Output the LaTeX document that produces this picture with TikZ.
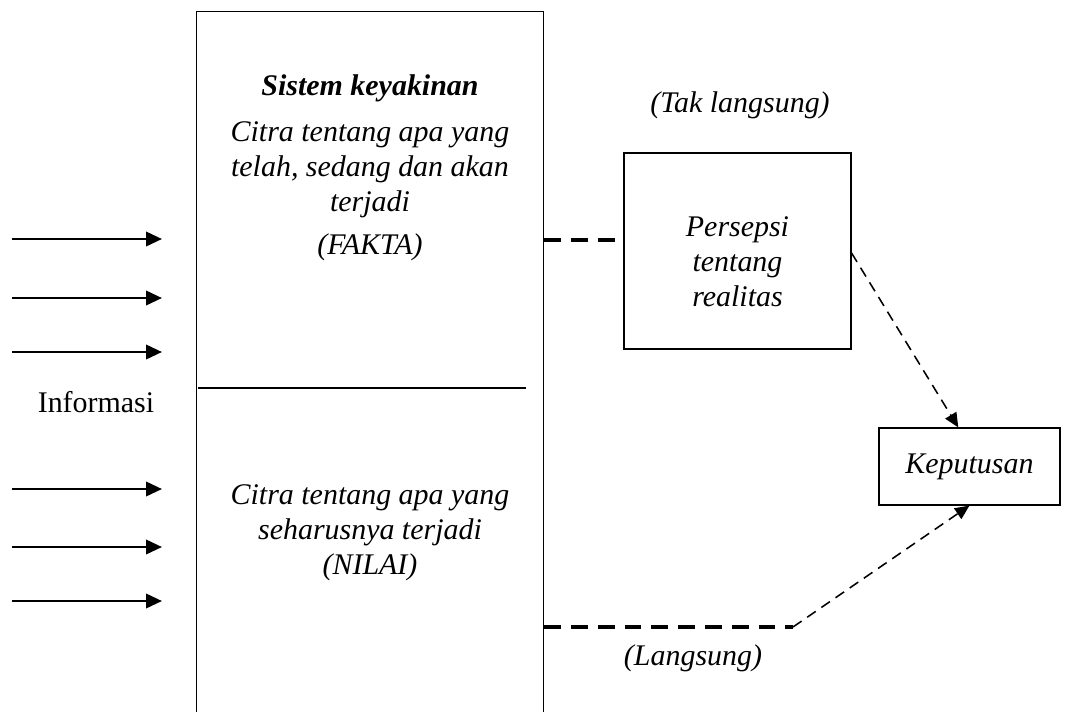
\documentclass[tikz,border=0pt]{standalone}
\usepackage{fontspec}
\setmainfont{Liberation Serif}
\usetikzlibrary{arrows.meta, positioning}
\tikzset{
  panel/.style={draw, line width=0.8pt, minimum width=8.675cm, minimum height=18.3cm},
  card/.style={draw, line width=0.8pt, align=center, font=\itshape},
  inarrow/.style={line width=1.8pt, -{Triangle[length=0.4cm, width=0.36cm]}},
  thickdash/.style={line width=2.3pt, dash pattern=on 0.42cm off 0.25cm},
  thindash/.style={line width=1.1pt, dash pattern=on 0.26cm off 0.17cm,
    -{Triangle[length=0.36cm, width=0.32cm]}},
  note/.style={font=\itshape}
}

\begin{document}
\begin{tikzpicture}[every node/.style={font=\fontsize{21.3}{24.9}\selectfont}]
  \useasboundingbox (0,0) rectangle (27.125,-17.775);

  % ---- Belief system panel (open at the bottom) ---------------------------
  \node[panel, anchor=north west] (sistem) at (4.9,-0.275) {};
  \draw[line width=1pt] (4.95,-9.7) -- (13.15,-9.7);

  \node[font=\fontsize{21.3}{24.9}\selectfont\bfseries\itshape] (judul) at (9.25,-2.2) {Sistem keyakinan};
  \node[align=center, font=\fontsize{21.3}{24.9}\selectfont\itshape] (fakta) at (9.25,-4.78)
        {Citra tentang apa yang\\ telah, sedang dan akan\\ terjadi\\[0.18cm] (FAKTA)};
  \node[align=center, font=\fontsize{21.3}{24.9}\selectfont\itshape] (nilai) at (9.25,-13.33)
        {Citra tentang apa yang\\ seharusnya terjadi\\ (NILAI)};

  % ---- Incoming information -------------------------------------------------
  \node (info) at (2.4,-10.05) {Informasi};
  \foreach \y [count=\i] in {-5.975, -7.45, -8.8, -12.225, -13.675, -15.025} {
    \coordinate (src\i) at (0.3,\y);
    \coordinate (dst\i) at (4.05,\y);
    \draw[inarrow] (src\i) -- (dst\i);
  }

  % ---- Perception and decision ----------------------------------------------
  \node[card, minimum width=5.675cm, minimum height=4.9cm,
        font=\fontsize{21.3}{24.9}\selectfont\itshape] (persepsi) at (18.4375,-6.275)
        {\rule{0pt}{1.05cm}Persepsi\\ tentang\\ realitas};
  \node[card, minimum width=4.525cm, minimum height=1.925cm,
        font=\fontsize{21.3}{24.9}\selectfont\itshape] (keputusan) at (24.2375,-11.6625)
        {Keputusan};

  \node[font=\fontsize{21.3}{24.9}\selectfont\itshape] (taklangsung) at (18.5,-2.62) {(Tak langsung)};
  \node[font=\fontsize{21.3}{24.9}\selectfont\itshape] (langsung) at (17.325,-16.45) {(Langsung)};

  % ---- Connectors -----------------------------------------------------------
  \draw[thickdash] (sistem.east |- 0,-6.0) -- (persepsi.west |- 0,-6.0);
  \draw[thindash] ([yshift=-0.05cm]persepsi.east) -- ([xshift=-0.28cm]keputusan.north);

  \coordinate (tekuk) at (19.825,-15.675);
  \draw[thickdash] (sistem.east |- tekuk) -- (tekuk);
  \draw[thindash] (tekuk) -- (keputusan.south);

\end{tikzpicture}
\end{document}
